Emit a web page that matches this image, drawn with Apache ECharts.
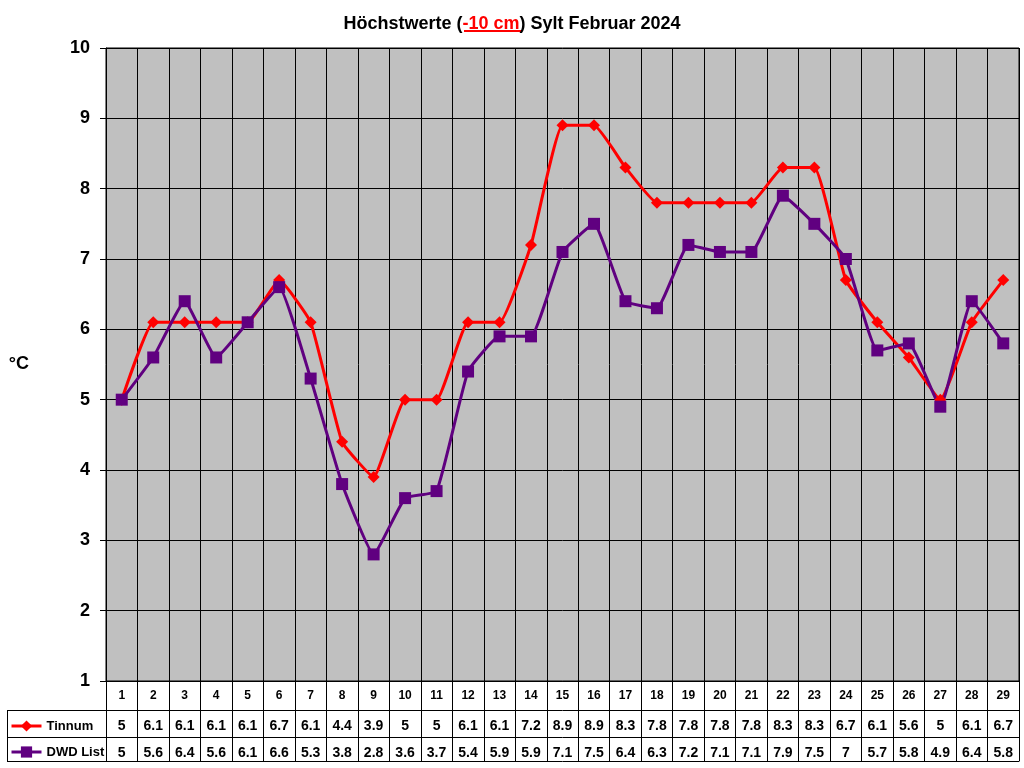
<!DOCTYPE html>
<html>
<head>
<meta charset="utf-8">
<script src="https://cdn.jsdelivr.net/npm/echarts@6/dist/echarts.min.js"></script>
<style>
html,body{margin:0;padding:0;background:#fff;}
#chart{width:1024px;height:768px;}
</style>
</head>
<body>
<div id="chart"></div>
<script>
const days = ['1','2','3','4','5','6','7','8','9','10','11','12','13','14','15','16','17','18','19','20','21','22','23','24','25','26','27','28','29'];
const tinnum = [5, 6.1, 6.1, 6.1, 6.1, 6.7, 6.1, 4.4, 3.9, 5, 5, 6.1, 6.1, 7.2, 8.9, 8.9, 8.3, 7.8, 7.8, 7.8, 7.8, 8.3, 8.3, 6.7, 6.1, 5.6, 5, 6.1, 6.7];
const dwdList = [5, 5.6, 6.4, 5.6, 6.1, 6.6, 5.3, 3.8, 2.8, 3.6, 3.7, 5.4, 5.9, 5.9, 7.1, 7.5, 6.4, 6.3, 7.2, 7.1, 7.1, 7.9, 7.5, 7, 5.7, 5.8, 4.9, 6.4, 5.8];
const seriesNames = ['Tinnum', 'DWD List'];
const yMin = 1, yMax = 10, yStep = 1;

const FONT = 'Arial, "Liberation Sans", sans-serif';
const chart = echarts.init(document.getElementById('chart'));

function tableAxis(offset, tickLen, labels, margin, fontSize) {
  return {
    type: 'category', gridIndex: 0, position: 'bottom', offset: offset,
    data: days, boundaryGap: true,
    axisLine: { show: true, lineStyle: { color: '#000', width: 1 } },
    axisTick: { show: tickLen > 0, interval: 0, length: tickLen, lineStyle: { color: '#000', width: 1 } },
    axisLabel: {
      show: !!labels, interval: 0, margin: margin,
      color: '#000', fontFamily: FONT, fontWeight: 'bold', fontSize: fontSize || 14,
      formatter: labels ? function (v, i) { return String(labels[i]); } : undefined
    },
    splitLine: { show: false }
  };
}

function legendFor(name, top) {
  return {
    orient: 'horizontal', left: 10, top: top, padding: 0,
    itemWidth: 30, itemHeight: 14,
    data: [name],
    lineStyle: { width: 3 },
    textStyle: { fontFamily: FONT, fontWeight: 'bold', fontSize: 13, color: '#000', lineHeight: 14 }
  };
}

const option = {
  animation: false,
  backgroundColor: '#fff',
  title: {
    text: '{a|Höchstwerte (}{r|-10 cm}{a|) Sylt Februar 2024}',
    left: 'center', top: 10,
    textStyle: {
      rich: {
        a: { fontFamily: FONT, fontWeight: 'bold', fontSize: 18, color: '#000' },
        r: { fontFamily: FONT, fontWeight: 'bold', fontSize: 18, color: '#ff0000' }
      }
    }
  },
  grid: {
    left: 106, right: 5, top: 48, bottom: 87,
    show: true, backgroundColor: '#c0c0c0', borderColor: '#000', borderWidth: 1
  },
  legend: [legendFor(seriesNames[0], 719), legendFor(seriesNames[1], 745)],
  xAxis: [
    Object.assign(tableAxis(0, 29, days, 9, 12), {
      splitLine: { show: true, interval: 0, lineStyle: { color: '#000', width: 1 } },
      axisLabel: { show: true, interval: 0, margin: 9, color: '#000', fontFamily: FONT, fontWeight: 'bold', fontSize: 12 }
    }),
    tableAxis(29, 27, tinnum, 9, 14),
    tableAxis(56, 24, dwdList, 9, 14),
    tableAxis(80, 0, null, 0)
  ],
  yAxis: {
    type: 'value', min: yMin, max: yMax, interval: yStep,
    name: '°C', nameLocation: 'middle', nameRotate: 0, nameGap: 77,
    nameTextStyle: { fontFamily: FONT, fontWeight: 'bold', fontSize: 18, color: '#000' },
    axisLine: { show: true, lineStyle: { color: '#000', width: 1 } },
    axisTick: { show: true, length: 6, lineStyle: { color: '#000', width: 1 } },
    axisLabel: { margin: 16, color: '#000', fontFamily: FONT, fontWeight: 'bold', fontSize: 18 },
    splitLine: { show: true, lineStyle: { color: '#000', width: 1 } }
  },
  series: [
    {
      name: seriesNames[0], type: 'line', data: tinnum, xAxisIndex: 0,
      smooth: 0.12, symbol: 'diamond', symbolSize: 12,
      lineStyle: { color: '#ff0000', width: 3 },
      itemStyle: { color: '#ff0000' }
    },
    {
      name: seriesNames[1], type: 'line', data: dwdList, xAxisIndex: 0,
      smooth: 0.12, symbol: 'rect', symbolSize: 12,
      lineStyle: { color: '#600080', width: 3 },
      itemStyle: { color: '#600080' }
    }
  ],
  graphic: [
    { type: 'line', shape: { x1: 7, y1: 710.5, x2: 106, y2: 710.5 }, style: { stroke: '#000', lineWidth: 1 } },
    { type: 'line', shape: { x1: 7, y1: 737.5, x2: 106, y2: 737.5 }, style: { stroke: '#000', lineWidth: 1 } },
    { type: 'line', shape: { x1: 7, y1: 761.5, x2: 106, y2: 761.5 }, style: { stroke: '#000', lineWidth: 1 } },
    { type: 'line', shape: { x1: 7.5, y1: 710, x2: 7.5, y2: 762 }, style: { stroke: '#000', lineWidth: 1 } },
    { type: 'line', shape: { x1: 464, y1: 31, x2: 522, y2: 31 }, style: { stroke: '#ff0000', lineWidth: 2 } }
  ]
};
chart.setOption(option);
</script>
</body>
</html>
